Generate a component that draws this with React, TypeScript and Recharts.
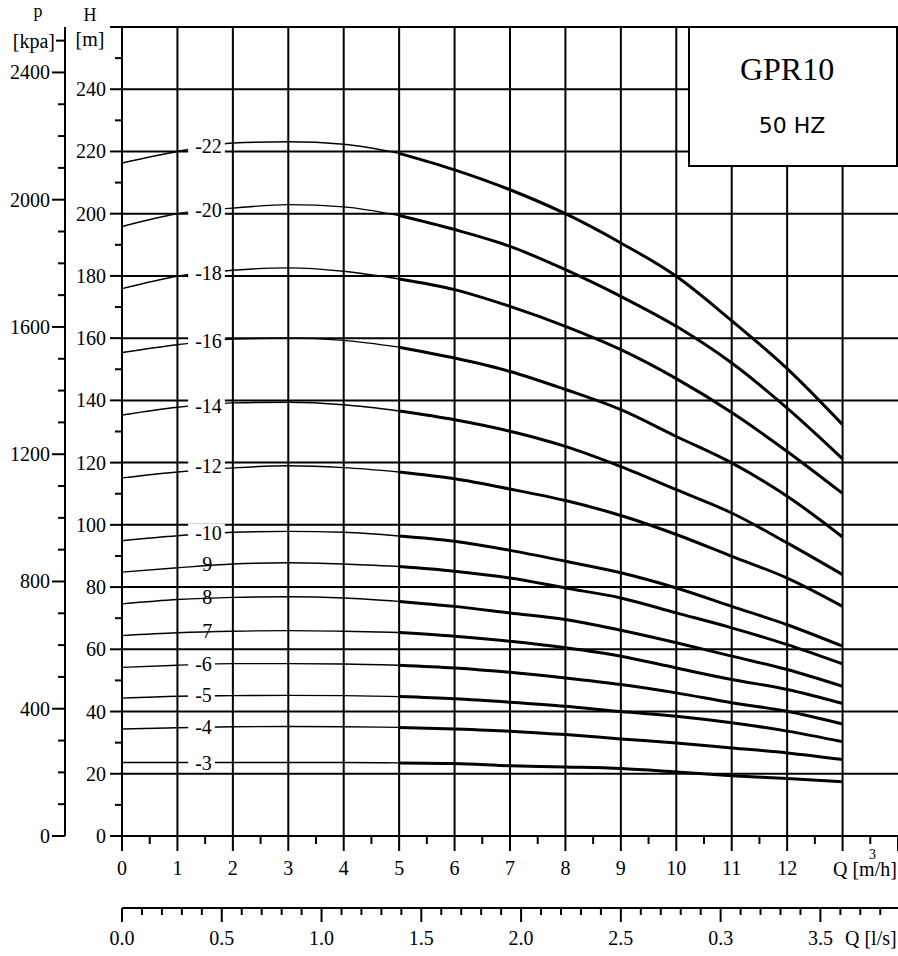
import React from "react";
import { LineChart, Line, XAxis, YAxis, CartesianGrid, ReferenceDot } from "recharts";

// flow rate Q [m3/h] at which the curves were read
const flowQ = [0, 1, 2, 3, 4, 5, 6, 7, 8, 9, 10, 11, 12, 13];

// head H [m] per stage count
const head22 = [216.3, 220.0, 222.7, 223.1, 222.3, 219.4, 214.1, 207.7, 200.0, 190.6, 179.9, 165.6, 150.2, 132.2];
const head20 = [195.9, 200.0, 201.8, 202.9, 202.2, 199.4, 194.9, 189.5, 182.0, 173.4, 163.8, 152.0, 137.5, 121.2];
const head18 = [175.9, 179.9, 181.8, 182.6, 181.5, 179.0, 175.6, 170.2, 163.8, 156.3, 147.0, 136.1, 123.6, 110.1];
const head16 = [155.4, 157.9, 159.7, 160.0, 159.3, 157.1, 153.6, 149.3, 143.5, 137.0, 128.4, 119.9, 109.2, 96.1];
const head14 = [135.3, 137.8, 139.2, 139.4, 138.6, 136.6, 133.8, 130.1, 125.2, 118.7, 111.3, 103.8, 94.2, 84.0];
const head12 = [115.1, 117.0, 118.3, 119.0, 118.4, 117.0, 114.8, 111.5, 107.8, 103.0, 96.9, 89.9, 82.9, 73.8];
const head10 = [94.9, 96.5, 97.6, 97.9, 97.6, 96.4, 94.7, 91.8, 88.3, 84.6, 79.7, 73.8, 67.9, 61.0];
const head9 = [84.8, 86.2, 87.4, 87.8, 87.4, 86.6, 85.1, 82.9, 79.7, 76.5, 71.7, 66.9, 61.5, 55.3];
const head8 = [74.6, 76.0, 76.7, 76.9, 76.5, 75.4, 73.8, 71.7, 69.6, 66.1, 62.1, 57.8, 53.5, 48.1];
const head7 = [64.4, 65.3, 65.8, 66.0, 65.8, 65.4, 64.2, 62.6, 60.5, 57.8, 54.0, 50.3, 47.1, 42.6];
const head6 = [54.2, 54.9, 55.4, 55.4, 55.3, 54.9, 54.0, 52.6, 50.8, 48.7, 46.0, 42.8, 40.1, 36.0];
const head5 = [44.3, 44.9, 45.1, 45.2, 45.1, 44.8, 44.1, 43.0, 41.7, 40.0, 38.5, 36.4, 33.7, 30.3];
const head4 = [34.4, 34.8, 35.1, 35.2, 35.1, 34.9, 34.4, 33.7, 32.6, 31.2, 29.9, 28.3, 26.7, 24.6];
const head3 = [23.6, 23.6, 23.6, 23.6, 23.6, 23.5, 23.3, 22.6, 22.2, 21.7, 20.6, 19.4, 18.5, 17.4];

const stages = [22, 20, 18, 16, 14, 12, 10, 9, 8, 7, 6, 5, 4, 3];
const heads = [head22, head20, head18, head16, head14, head12, head10, head9, head8, head7, head6, head5, head4, head3];
const workFrom = 5; // curves are drawn heavy from here on

// curve tags, placed on each curve
const curveLabels = ["-22", "-20", "-18", "-16", "-14", "-12", "-10", "9", "8", "7", "-6", "-5", "-4", "-3"];
const labelHeads = [221.8, 201.2, 180.8, 159.2, 138.1, 118.9, 97.5, 87.3, 76.7, 66.0, 55.3, 45.3, 34.9, 23.6];
const labelFlow = 1.32;

// axes
const headTicks = [0, 10, 20, 30, 40, 50, 60, 70, 80, 90, 100, 110, 120, 130, 140, 150, 160, 170, 180, 190, 200, 210, 220, 230, 240, 250, 260];
const headGrid = [20, 40, 60, 80, 100, 120, 140, 160, 180, 200, 220, 240, 260];
const pressureTicks = [0, 100, 200, 300, 400, 500, 600, 700, 800, 900, 1000, 1100, 1200, 1300, 1400, 1500, 1600, 1700, 1800, 1900, 2000, 2100, 2200, 2300, 2400, 2500];
const kpaPerMetre = 9.78;
const flowTicks = [0, 0.5, 1, 1.5, 2, 2.5, 3, 3.5, 4, 4.5, 5, 5.5, 6, 6.5, 7, 7.5, 8, 8.5, 9, 9.5, 10, 10.5, 11, 11.5, 12, 12.5, 13, 13.5, 14];
const flowLabels = ["0", "1", "2", "3", "4", "5", "6", "7", "8", "9", "10", "11", "12"];
const flowGrid = [1, 2, 3, 4, 5, 6, 7, 8, 9, 10, 11, 12, 13];
const lsTicks = [0, 0.1, 0.2, 0.3, 0.4, 0.5, 0.6, 0.7, 0.8, 0.9, 1, 1.1, 1.2, 1.3, 1.4, 1.5, 1.6, 1.7, 1.8, 1.9, 2, 2.1, 2.2, 2.3, 2.4, 2.5, 2.6, 2.7, 2.8, 2.9, 3, 3.1, 3.2, 3.3, 3.4, 3.5, 3.6, 3.7, 3.8];
const lsLabels = ["0.0", "0.5", "1.0", "1.5", "2.0", "2.5", "0.3", "3.5"];
const m3hPerLs = 3.6;
const qMax = 14;

const serif = '"Liberation Serif", "Times New Roman", serif';

const chartData = flowQ.map((q, i) => {
  const row: Record<string, number | null> = { q };
  stages.forEach((s, k) => {
    row[`a${s}`] = q <= workFrom ? heads[k][i] : null;
    row[`b${s}`] = q >= workFrom ? heads[k][i] : null;
  });
  return row;
});

// l/s ticks expressed on the m3/h scale so both bottom axes share one domain
const lsTicksQ = lsTicks.map((v) => v * m3hPerLs);

function HeadTick({ x, y, payload }: any) {
  const v = payload.value;
  const major = v % 20 === 0;
  return (
    <g>
      <line x1={x - (major ? 12 : 7)} x2={x} y1={y} y2={y} stroke="#000" strokeWidth={2} />
      {major && v < 260 && (
        <text x={x - 16} y={y + 7} textAnchor="end" fontSize={20} fontFamily={serif} fill="#000">
          {v}
        </text>
      )}
    </g>
  );
}

function PressureTick({ x, y, payload }: any) {
  const v = payload.value;
  const top = v === 2500;
  const major = v % 400 === 0;
  return (
    <g>
      <line x1={x - (major ? 13 : top ? 9 : 7)} x2={x} y1={y} y2={y} stroke="#000" strokeWidth={2} />
      {(major || top) && (
        <text x={x - (top ? 10 : 15)} y={y + 7} textAnchor="end" fontSize={20} fontFamily={serif} fill="#000">
          {top ? "[kpa]" : v}
        </text>
      )}
    </g>
  );
}

function FlowTick({ x, y, payload }: any) {
  const v = payload.value;
  const major = Number.isInteger(v);
  return (
    <g>
      <line x1={x} x2={x} y1={y} y2={y + (major ? 15 : 8)} stroke="#000" strokeWidth={2} />
      {major && v < flowLabels.length && (
        <text x={x} y={y + 39} textAnchor="middle" fontSize={20} fontFamily={serif} fill="#000">
          {flowLabels[v]}
        </text>
      )}
    </g>
  );
}

function LsTick({ x, y, payload }: any) {
  const tenth = Math.round((payload.value / m3hPerLs) * 10);
  const major = tenth % 5 === 0;
  return (
    <g>
      <line x1={x} x2={x} y1={y} y2={y + (major ? 14 : 7)} stroke="#000" strokeWidth={2} />
      {major && lsLabels[tenth / 5] && (
        <text x={x} y={y + 37} textAnchor="middle" fontSize={20} fontFamily={serif} fill="#000">
          {lsLabels[tenth / 5]}
        </text>
      )}
    </g>
  );
}

function CurveTag({ cx, cy, text }: { cx: number; cy: number; text: string }) {
  if (!text.startsWith("-")) {
    return (
      <text x={cx + 7} y={cy + 7} fontSize={20} fontFamily={serif} fill="#000">
        {text}
      </text>
    );
  }
  const w = 6.7 + (text.length - 1) * 10;
  return (
    <g>
      <rect x={cx - 7} y={cy - 9} width={w + 10} height={18} fill="#fff" />
      <text x={cx} y={cy + 7} fontSize={20} fontFamily={serif} fill="#000">
        {text}
      </text>
    </g>
  );
}

export default function App() {
  return (
    <div style={{ position: "absolute", left: 0, top: 0, width: 898, height: 956, background: "#fff" }}>
      <LineChart width={898} height={956} data={chartData} margin={{ top: 27, right: 0, bottom: 0, left: 0 }}>
        <CartesianGrid
          xAxisId="flow"
          yAxisId="h"
          horizontalValues={headGrid}
          verticalValues={flowGrid}
          stroke="#000"
          strokeWidth={2}
        />
        <XAxis
          xAxisId="flow"
          dataKey="q"
          type="number"
          domain={[0, qMax]}
          ticks={flowTicks}
          interval={0}
          allowDataOverflow
          height={72}
          tickSize={0}
          tickMargin={0}
          tickLine={false}
          axisLine={{ stroke: "#000", strokeWidth: 2 }}
          tick={<FlowTick />}
        />
        <XAxis
          xAxisId="lps"
          dataKey="q"
          type="number"
          domain={[0, qMax]}
          ticks={lsTicksQ}
          interval={0}
          allowDataOverflow
          height={48}
          tickSize={0}
          tickMargin={0}
          tickLine={false}
          axisLine={{ stroke: "#000", strokeWidth: 2 }}
          tick={<LsTick />}
        />
        <YAxis
          yAxisId="h"
          type="number"
          domain={[0, 260]}
          ticks={headTicks}
          interval={0}
          allowDataOverflow
          width={57}
          tickSize={0}
          tickMargin={0}
          tickLine={false}
          axisLine={{ stroke: "#000", strokeWidth: 2 }}
          tick={<HeadTick />}
        />
        <YAxis
          yAxisId="p"
          type="number"
          domain={[0, 260 * kpaPerMetre]}
          ticks={pressureTicks}
          interval={0}
          allowDataOverflow
          width={65}
          tickSize={0}
          tickMargin={0}
          tickLine={false}
          axisLine={{ stroke: "#000", strokeWidth: 2 }}
          tick={<PressureTick />}
        />
        {stages.map((s) => (
          <Line
            key={`a${s}`}
            xAxisId="flow"
            yAxisId="h"
            dataKey={`a${s}`}
            type="monotone"
            stroke="#000"
            strokeWidth={1.4}
            dot={false}
            activeDot={false}
            connectNulls={false}
            isAnimationActive={false}
          />
        ))}
        {stages.map((s) => (
          <Line
            key={`b${s}`}
            xAxisId="flow"
            yAxisId="h"
            dataKey={`b${s}`}
            type="monotone"
            stroke="#000"
            strokeWidth={3}
            dot={false}
            activeDot={false}
            connectNulls={false}
            isAnimationActive={false}
          />
        ))}
        {curveLabels.map((t, i) => (
          <ReferenceDot
            key={t}
            xAxisId="flow"
            yAxisId="h"
            x={labelFlow}
            y={labelHeads[i]}
            r={0}
            ifOverflow="visible"
            shape={(p: any) => <CurveTag cx={p.cx} cy={p.cy} text={t} />}
          />
        ))}
      </LineChart>
      <svg
        width={898}
        height={956}
        style={{ position: "absolute", left: 0, top: 0, pointerEvents: "none" }}
      >
        <rect x={689} y={27} width={208} height={139} fill="#fff" stroke="#000" strokeWidth={2} />
        <text x={787} y={80} textAnchor="middle" fontSize={32} fontFamily={serif} fill="#000">
          GPR10
        </text>
        <text x={792} y={133} textAnchor="middle" fontSize={22} fontFamily='"DejaVu Sans", sans-serif' fill="#000">
          50 HZ
        </text>
        <text x={38} y={17} textAnchor="middle" fontSize={18} fontFamily={serif} fill="#000">p</text>
        <text x={90} y={21} textAnchor="middle" fontSize={18} fontFamily={serif} fill="#000">H</text>
        <text x={90} y={46} textAnchor="middle" fontSize={20} fontFamily={serif} fill="#000">[m]</text>
        <text x={833} y={876} fontSize={20} fontFamily={serif} fill="#000">Q [m/h]</text>
        <text x={869} y={859} fontSize={14} fontFamily={serif} fill="#000">3</text>
        <text x={845} y={945} fontSize={20} fontFamily={serif} fill="#000">Q [l/s]</text>
      </svg>
    </div>
  );
}
